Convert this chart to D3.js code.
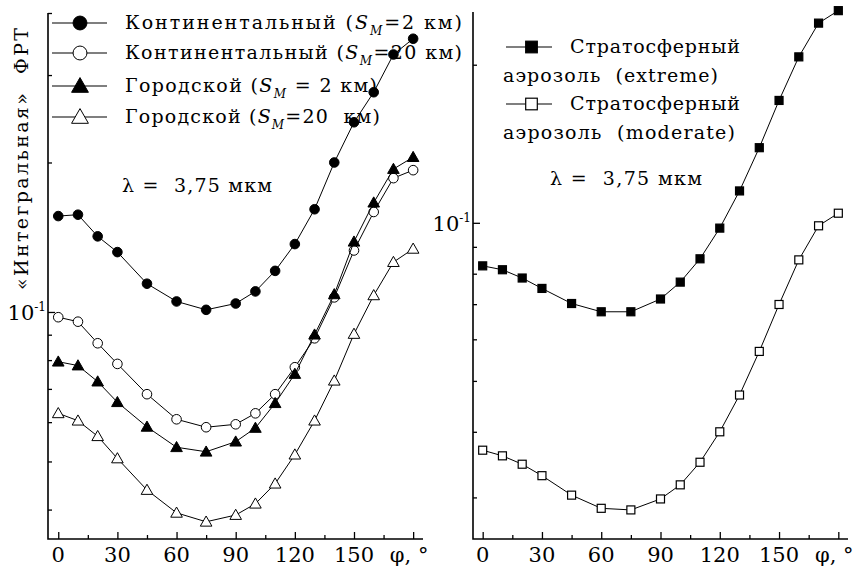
<!DOCTYPE html>
<html>
<head>
<meta charset="utf-8">
<script src="https://cdn.jsdelivr.net/npm/d3@7"></script>
<style>
  body { margin: 0; background: #fff; }
</style>
</head>
<body>
<div id="chart"></div>
<script>
// angle values, degrees (same for every curve)
const phi = [0, 10, 20, 30, 45, 60, 75, 90, 100, 110, 120, 130, 140, 150, 160, 170, 180];

// left panel
const contS2  = [0.156, 0.157, 0.142, 0.132, 0.114, 0.105, 0.101, 0.104, 0.110, 0.121, 0.137, 0.161, 0.200, 0.241, 0.277, 0.330, 0.355];
const contS20 = [0.0976, 0.0956, 0.0865, 0.0786, 0.0683, 0.0608, 0.0586, 0.0594, 0.0625, 0.0683, 0.0774, 0.0885, 0.107, 0.133, 0.159, 0.186, 0.193];
const cityS2  = [0.0794, 0.0780, 0.0724, 0.0658, 0.0587, 0.0534, 0.0523, 0.0548, 0.0584, 0.0655, 0.0750, 0.0900, 0.1085, 0.1385, 0.166, 0.194, 0.205];
const cityS20 = [0.0625, 0.0604, 0.0562, 0.0507, 0.0438, 0.0394, 0.0378, 0.0390, 0.0411, 0.0451, 0.0516, 0.0604, 0.0727, 0.0903, 0.108, 0.126, 0.134];

// right panel
const stratExtreme  = [0.0828, 0.0814, 0.0785, 0.0750, 0.0702, 0.0677, 0.0677, 0.0716, 0.0771, 0.0854, 0.0977, 0.115, 0.139, 0.171, 0.207, 0.240, 0.2535];
const stratModerate = [0.0369, 0.0360, 0.0347, 0.0330, 0.0303, 0.0286, 0.0284, 0.0298, 0.0317, 0.0350, 0.0400, 0.0470, 0.0569, 0.0699, 0.0850, 0.0987, 0.1043];

const xTicks = [0, 15, 30, 45, 60, 75, 90, 105, 120, 135, 150, 165, 180];
const xTickLabels = ["0", "", "30", "", "60", "", "90", "", "120", "", "150", "", "φ, °"];
const yTicksLeft  = [0.04, 0.05, 0.06, 0.07, 0.08, 0.09, 0.1, 0.2, 0.3, 0.4];
const yTicksRight = [0.03, 0.04, 0.05, 0.06, 0.07, 0.08, 0.09, 0.1, 0.2];

const yLabel = "«Интегральная»  ФРТ";
const lambdaText = "λ =  3,75 мкм";

const W = 859, H = 569;
const FONT = "DejaVu Serif";
const svg = d3.select("#chart").append("svg")
  .attr("width", W).attr("height", H)
  .attr("font-family", FONT);
svg.append("rect").attr("width", W).attr("height", H).attr("fill", "#fff");

// scales
const xL = d3.scaleLinear().domain([-5.2, 185]).range([48, 423]);
const yL = d3.scaleLog().domain([0.0349, 0.4]).range([539, 13]);
const xR = d3.scaleLinear().domain([-4.9, 184.9]).range([473, 848]);
const yR = d3.scaleLog().domain([0.025, 0.252]).range([539, 12]);

// helper: plain text, optionally stretched to a given width
function label(x, y, size, str, width) {
  const t = svg.append("text").attr("x", x).attr("y", y).attr("font-size", size)
    .attr("font-family", FONT)
    .attr("xml:space", "preserve").style("white-space", "pre");
  if (str !== null) t.text(str);
  if (width) t.attr("textLength", width).attr("lengthAdjust", "spacing");
  return t;
}

function drawAxes(x, y, yTicks) {
  const g = svg.append("g");
  // x axis, ticks pointing inward
  const ax = d3.axisTop(x).tickValues(xTicks).tickFormat("")
    .tickSizeInner(0).tickSizeOuter(0);
  const gx = g.append("g").attr("transform", `translate(0,${y.range()[0]})`).call(ax);
  gx.select(".domain").remove();
  gx.selectAll(".tick line")
    .attr("y2", (d, i) => i % 2 === 0 ? -7 : -4)
    .attr("stroke", "#000").attr("stroke-width", 1.3);
  gx.selectAll(".tick text").remove();
  xTicks.forEach((t, i) => {
    if (!xTickLabels[i]) return;
    label(x(t) - (i === xTicks.length - 1 ? 4 : 0), 562, 21, xTickLabels[i])
      .attr("text-anchor", "middle");
  });

  // y axis ticks
  const ay = d3.axisRight(y).tickValues(yTicks).tickFormat("").tickSizeOuter(0);
  const gy = g.append("g").attr("transform", `translate(${x.range()[0]},0)`).call(ay);
  gy.select(".domain").remove();
  gy.selectAll(".tick line")
    .attr("x2", d => d === 0.1 ? 7 : 4)
    .attr("stroke", "#000").attr("stroke-width", 1.3);

  // frame lines (left + bottom)
  g.append("path")
    .attr("d", `M${x.range()[0]},${y.range()[1]}V${y.range()[0]}H${x.range()[1]}`)
    .attr("fill", "none").attr("stroke", "#000").attr("stroke-width", 1.6);

  // 10^-1 label
  const lab = label(x.range()[0] - 2, y(0.1) + 8, 21, null).attr("text-anchor", "end");
  lab.append("tspan").text("10");
  lab.append("tspan").attr("dy", -9).attr("font-size", 12).text("-1");
}

const line = (x, y) => d3.line().x((d, i) => x(phi[i])).y(d => y(d));

function drawSeries(x, y, vals, marker) {
  svg.append("path").datum(vals)
    .attr("d", line(x, y))
    .attr("fill", "none").attr("stroke", "#000").attr("stroke-width", 1);
  vals.forEach((v, i) => drawMarker(x(phi[i]), y(v), marker, 1));
}

function drawMarker(cx, cy, m, s) {
  const fill = m.filled ? "#000" : "#fff";
  if (m.shape === "circle") {
    svg.append("circle").attr("cx", cx).attr("cy", cy).attr("r", 4.8 * s)
      .attr("fill", fill).attr("stroke", "#000").attr("stroke-width", 1);
  } else if (m.shape === "triangle") {
    const a = 5.8 * s;
    svg.append("path")
      .attr("d", `M${cx},${cy - a}L${cx + a},${cy + a * 0.75}L${cx - a},${cy + a * 0.75}Z`)
      .attr("fill", fill).attr("stroke", "#000").attr("stroke-width", 1);
  } else {
    const a = 4 * s;
    svg.append("rect").attr("x", cx - a).attr("y", cy - a)
      .attr("width", 2 * a).attr("height", 2 * a)
      .attr("fill", fill).attr("stroke", "#000").attr("stroke-width", 1.2);
  }
}

drawAxes(xL, yL, yTicksLeft);
drawAxes(xR, yR, yTicksRight);

const mFilledCircle = {shape: "circle", filled: true};
const mOpenCircle = {shape: "circle", filled: false};
const mFilledTri = {shape: "triangle", filled: true};
const mOpenTri = {shape: "triangle", filled: false};
const mFilledSq = {shape: "square", filled: true};
const mOpenSq = {shape: "square", filled: false};

drawSeries(xL, yL, contS2, mFilledCircle);
drawSeries(xL, yL, contS20, mOpenCircle);
drawSeries(xL, yL, cityS2, mFilledTri);
drawSeries(xL, yL, cityS20, mOpenTri);
drawSeries(xR, yR, stratExtreme, mFilledSq);
drawSeries(xR, yR, stratModerate, mOpenSq);

// left legend
const legendLeft = [
  {m: mFilledCircle, name: "Континентальный (", tail: "=2 км)", y: 23, w: 337},
  {m: mOpenCircle, name: "Континентальный (", tail: "=20 км)", y: 53, w: 337},
  {m: mFilledTri, name: "Городской (", tail: " = 2 км)", y: 86, w: 252},
  {m: mOpenTri, name: "Городской (", tail: "=20  км)", y: 117, w: 255}
];
legendLeft.forEach(d => {
  svg.append("line").attr("x1", 52).attr("x2", 107).attr("y1", d.y).attr("y2", d.y)
    .attr("stroke", "#000").attr("stroke-width", 1.2);
  drawMarker(80, d.y, d.m, 1.45);
  const t = label(125, d.y + 6, 19, null, d.w);
  t.append("tspan").text(d.name);
  t.append("tspan").attr("font-style", "italic").text("S");
  t.append("tspan").attr("font-style", "italic").attr("font-size", 12).attr("dy", 6).text("M");
  t.append("tspan").attr("dy", -6).text(d.tail);
});

// right legend
const legendRight = [
  {m: mFilledSq, line1: "Стратосферный", line2: "аэрозоль  (extreme)", y: 47, w2: 215},
  {m: mOpenSq, line1: "Стратосферный", line2: "аэрозоль  (moderate)", y: 104, w2: 232}
];
legendRight.forEach(d => {
  svg.append("line").attr("x1", 506).attr("x2", 552).attr("y1", d.y).attr("y2", d.y)
    .attr("stroke", "#000").attr("stroke-width", 1.2);
  drawMarker(531.5, d.y, d.m, 1.45);
  label(570, d.y + 6, 19, d.line1, 170);
  label(503, d.y + 35, 19, d.line2, d.w2);
});

// wavelength notes
label(122, 192, 19, lambdaText, 150);
label(550, 185, 19, lambdaText, 152);

// y axis title
label(0, 0, 19, yLabel, 262)
  .attr("transform", "translate(28,290) rotate(-90)");
</script>
</body>
</html>
